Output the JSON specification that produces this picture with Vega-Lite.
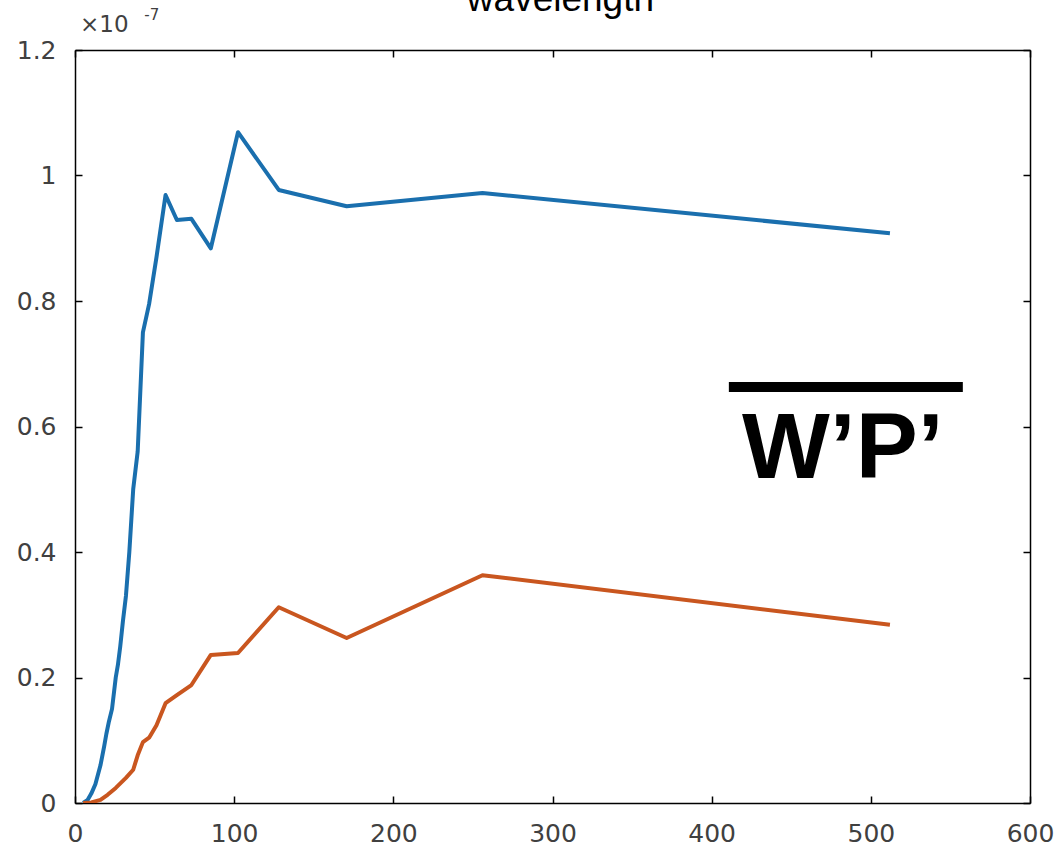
{
  "$schema": "https://vega.github.io/schema/vega-lite/v6.json",
  "width": 955,
  "height": 753,
  "autosize": {"type": "none"},
  "padding": {"left": 75, "top": 50, "right": 33, "bottom": 47},
  "background": "white",
  "config": {
    "view": {"stroke": null},
    "axis": {
      "domainColor": "#000000",
      "domainWidth": 1.5,
      "tickColor": "#000000",
      "tickWidth": 1.5,
      "tickSize": -7,
      "grid": false,
      "labelFont": "DejaVu Sans",
      "labelFontSize": 25,
      "labelColor": "#404040",
      "title": null
    }
  },
  "datasets": {
    "curves": [
      {"series": "A", "wavelength": 5.12, "value": 0.0},
      {"series": "A", "wavelength": 8.0, "value": 0.05e-8},
      {"series": "A", "wavelength": 10.24, "value": 0.15e-8},
      {"series": "A", "wavelength": 12.8, "value": 0.3e-8},
      {"series": "A", "wavelength": 16.0, "value": 0.6e-8},
      {"series": "A", "wavelength": 18.29, "value": 0.9e-8},
      {"series": "A", "wavelength": 19.69, "value": 1.1e-8},
      {"series": "A", "wavelength": 21.33, "value": 1.3e-8},
      {"series": "A", "wavelength": 23.27, "value": 1.5e-8},
      {"series": "A", "wavelength": 25.6, "value": 2.0e-8},
      {"series": "A", "wavelength": 26.95, "value": 2.2e-8},
      {"series": "A", "wavelength": 28.44, "value": 2.5e-8},
      {"series": "A", "wavelength": 30.12, "value": 2.9e-8},
      {"series": "A", "wavelength": 32.0, "value": 3.3e-8},
      {"series": "A", "wavelength": 34.13, "value": 4.0e-8},
      {"series": "A", "wavelength": 36.57, "value": 5.0e-8},
      {"series": "A", "wavelength": 39.38, "value": 5.6e-8},
      {"series": "A", "wavelength": 42.67, "value": 7.5e-8},
      {"series": "A", "wavelength": 46.55, "value": 7.95e-8},
      {"series": "A", "wavelength": 51.2, "value": 8.7e-8},
      {"series": "A", "wavelength": 56.89, "value": 9.69e-8},
      {"series": "A", "wavelength": 64.0, "value": 9.29e-8},
      {"series": "A", "wavelength": 73.14, "value": 9.31e-8},
      {"series": "A", "wavelength": 85.33, "value": 8.84e-8},
      {"series": "A", "wavelength": 102.4, "value": 10.69e-8},
      {"series": "A", "wavelength": 128.0, "value": 9.77e-8},
      {"series": "A", "wavelength": 170.67, "value": 9.51e-8},
      {"series": "A", "wavelength": 256.0, "value": 9.72e-8},
      {"series": "A", "wavelength": 512.0, "value": 9.08e-8},
      {"series": "B", "wavelength": 5.12, "value": 0.0},
      {"series": "B", "wavelength": 10.24, "value": 0.01e-8},
      {"series": "B", "wavelength": 16.0, "value": 0.05e-8},
      {"series": "B", "wavelength": 20.48, "value": 0.13e-8},
      {"series": "B", "wavelength": 25.6, "value": 0.24e-8},
      {"series": "B", "wavelength": 32.0, "value": 0.4e-8},
      {"series": "B", "wavelength": 36.57, "value": 0.53e-8},
      {"series": "B", "wavelength": 39.38, "value": 0.76e-8},
      {"series": "B", "wavelength": 42.67, "value": 0.97e-8},
      {"series": "B", "wavelength": 46.55, "value": 1.04e-8},
      {"series": "B", "wavelength": 51.2, "value": 1.24e-8},
      {"series": "B", "wavelength": 56.89, "value": 1.59e-8},
      {"series": "B", "wavelength": 64.0, "value": 1.72e-8},
      {"series": "B", "wavelength": 73.14, "value": 1.88e-8},
      {"series": "B", "wavelength": 85.33, "value": 2.36e-8},
      {"series": "B", "wavelength": 102.4, "value": 2.39e-8},
      {"series": "B", "wavelength": 128.0, "value": 3.12e-8},
      {"series": "B", "wavelength": 170.67, "value": 2.63e-8},
      {"series": "B", "wavelength": 256.0, "value": 3.63e-8},
      {"series": "B", "wavelength": 512.0, "value": 2.84e-8}
    ]
  },
  "layer": [
    {
      "data": {"name": "curves"},
      "mark": {"type": "line", "strokeWidth": 4, "strokeJoin": "round", "clip": true},
      "encoding": {
        "x": {
          "field": "wavelength",
          "type": "quantitative",
          "scale": {"domain": [0, 600], "nice": false, "zero": false},
          "axis": {
            "orient": "bottom",
            "values": [0, 100, 200, 300, 400, 500, 600],
            "format": "d",
            "labelPadding": 25,
            "labelFlush": false
          }
        },
        "y": {
          "field": "value",
          "type": "quantitative",
          "scale": {"domain": [0, 1.2e-7], "nice": false, "zero": false},
          "axis": {
            "orient": "left",
            "values": [0, 2e-8, 4e-8, 6e-8, 8e-8, 1e-7, 1.2e-7],
            "labelExpr": "datum.value == 0 ? '0' : format(datum.value * 1e7, '.1~f')",
            "labelPadding": 26,
            "labelFlush": false
          }
        },
        "color": {
          "field": "series",
          "type": "nominal",
          "scale": {"domain": ["A", "B"], "range": ["#1a6fae", "#c9561f"]},
          "legend": null
        }
      }
    },
    {
      "data": {"values": [{"x0": 410.8, "x1": 557.8, "level": 6.63e-8}]},
      "mark": {"type": "rule", "strokeWidth": 10, "color": "#000000", "strokeCap": "butt"},
      "encoding": {
        "x": {
          "field": "x0",
          "type": "quantitative",
          "axis": {"orient": "top", "values": [0, 100, 200, 300, 400, 500, 600], "labels": false}
        },
        "x2": {"field": "x1"},
        "y": {
          "field": "level",
          "type": "quantitative",
          "axis": {"orient": "right", "values": [0, 2e-8, 4e-8, 6e-8, 8e-8, 1e-7, 1.2e-7], "labels": false}
        }
      }
    },
    {
      "data": {"values": [{"x": 482.4, "y": 5.18e-8, "label": "W’P’"}]},
      "mark": {"type": "text", "font": "Liberation Sans", "fontWeight": "bold", "fontSize": 93, "color": "#000000", "align": "center", "baseline": "alphabetic"},
      "encoding": {
        "x": {"field": "x", "type": "quantitative", "axis": null},
        "y": {"field": "y", "type": "quantitative", "axis": null},
        "text": {"field": "label"}
      }
    },
    {
      "data": {"values": [{"x": 305, "y": 1.2622e-7, "label": "wavelength"}]},
      "mark": {"type": "text", "font": "Liberation Sans", "fontSize": 37, "color": "#000000", "align": "center", "baseline": "alphabetic"},
      "encoding": {
        "x": {"field": "x", "type": "quantitative", "axis": null},
        "y": {"field": "y", "type": "quantitative", "axis": null},
        "text": {"field": "label"}
      }
    },
    {
      "data": {"values": [{"x": 3.2, "y": 1.2287e-7, "label": "×10"}]},
      "mark": {"type": "text", "font": "DejaVu Sans", "fontSize": 23, "color": "#404040", "align": "left", "baseline": "alphabetic"},
      "encoding": {
        "x": {"field": "x", "type": "quantitative", "axis": null},
        "y": {"field": "y", "type": "quantitative", "axis": null},
        "text": {"field": "label"}
      }
    },
    {
      "data": {"values": [{"x": 43.5, "y": 1.2478e-7, "label": "-7"}]},
      "mark": {"type": "text", "font": "DejaVu Sans", "fontSize": 15, "color": "#404040", "align": "left", "baseline": "alphabetic"},
      "encoding": {
        "x": {"field": "x", "type": "quantitative", "axis": null},
        "y": {"field": "y", "type": "quantitative", "axis": null},
        "text": {"field": "label"}
      }
    }
  ],
  "resolve": {"axis": {"x": "independent", "y": "independent"}}
}
